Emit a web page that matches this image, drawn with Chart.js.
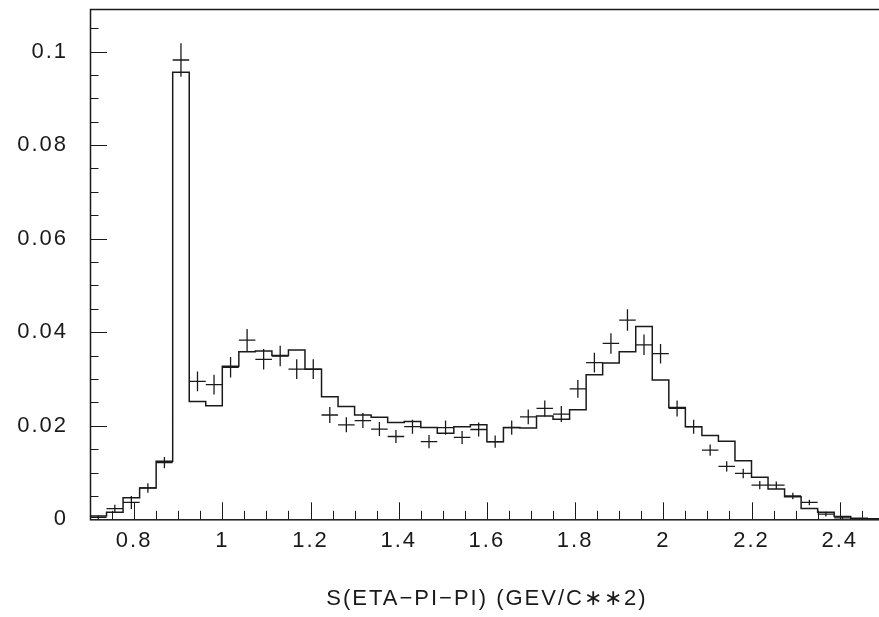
<!DOCTYPE html>
<html>
<head>
<meta charset="utf-8">
<script src="https://cdn.jsdelivr.net/npm/chart.js@4.4.1/dist/chart.umd.min.js"></script>
<style>
  html, body { margin: 0; padding: 0; background: #fff; overflow: hidden; }
  #wrap { width: 890px; height: 617px; }
</style>
</head>
<body>
<div id="wrap"><canvas id="c" width="890" height="617"></canvas></div>
<script>
// 48 bins of 0.0375 GeV/c^2 between 0.7 and 2.5
const binEdges = [
  0.7, 0.7375, 0.775, 0.8125, 0.85, 0.8875, 0.925, 0.9625,
  1.0, 1.0375, 1.075, 1.1125, 1.15, 1.1875, 1.225, 1.2625,
  1.3, 1.3375, 1.375, 1.4125, 1.45, 1.4875, 1.525, 1.5625,
  1.6, 1.6375, 1.675, 1.7125, 1.75, 1.7875, 1.825, 1.8625,
  1.9, 1.9375, 1.975, 2.0125, 2.05, 2.0875, 2.125, 2.1625,
  2.2, 2.2375, 2.275, 2.3125, 2.35, 2.3875, 2.425, 2.4625, 2.5
];

// solid histogram, one value per bin
const modelValues = [
  0.0007, 0.0015, 0.0046, 0.0067, 0.0124, 0.0956, 0.0252, 0.0243,
  0.0327, 0.0358, 0.0360, 0.0350, 0.0362, 0.0321, 0.0262, 0.0241,
  0.0223, 0.0218, 0.0207, 0.0209, 0.0196, 0.0184, 0.0198, 0.0202,
  0.0166, 0.0196, 0.0195, 0.0221, 0.0214, 0.0234, 0.0309, 0.0334,
  0.0358, 0.0412, 0.0298, 0.0239, 0.0198, 0.0179, 0.0167, 0.0125,
  0.0090, 0.0065, 0.0048, 0.0023, 0.0015, 0.0006, 0.0002, 0.0001
];

// measured points, one per bin (null = empty bin)
const dataValues = [
  0.0004, 0.0023, 0.0036, 0.0067, 0.0121, 0.0982, 0.0295, 0.0288,
  0.0325, 0.0383, 0.0342, 0.0349, 0.0321, 0.0321, 0.0223, 0.0202,
  0.0211, 0.0193, 0.0177, 0.0198, 0.0166, 0.0196, 0.0175, 0.0192,
  0.0166, 0.0196, 0.0219, 0.0237, 0.0225, 0.0279, 0.0335, 0.0376,
  0.0426, 0.0373, 0.0354, 0.0237, 0.0198, 0.0148, 0.0113, 0.0098,
  0.0073, 0.0073, 0.0050, 0.0036, 0.0011, 0.0003, 0.0001, null
];

// statistical error (half length of the vertical bar)
const dataErrors = [
  0.0004, 0.0008, 0.0014, 0.0010, 0.0012, 0.0036, 0.0021, 0.0021,
  0.0022, 0.0024, 0.0022, 0.0022, 0.0021, 0.0021, 0.0017, 0.0016,
  0.0016, 0.0015, 0.0014, 0.0015, 0.0014, 0.0015, 0.0014, 0.0015,
  0.0013, 0.0015, 0.0016, 0.0017, 0.0017, 0.0019, 0.0021, 0.0022,
  0.0023, 0.0022, 0.0021, 0.0017, 0.0015, 0.0012, 0.0011, 0.0010,
  0.0009, 0.0008, 0.0007, 0.0006, 0.0005, 0.0004, 0.0002, 0
];

const xTickValues = [0.8, 1, 1.2, 1.4, 1.6, 1.8, 2, 2.2, 2.4];
const yTickValues = [0, 0.02, 0.04, 0.06, 0.08, 0.1];
const xMinorStep = 0.05;
const yMinorStep = 0.005;
const xRange = [0.7, 2.5];
const yRange = [0, 0.1091];
const xAxisTitle = 'S(ETA\u2212PI\u2212PI) (GEV/C\u2217\u22172)';

const FONT = "'Liberation Sans', Arial, sans-serif";
const INK = '#1a1a1a';

// step outline: each bin contributes its left and right corner
const histPoints = [];
modelValues.forEach((v, i) => {
  histPoints.push({ x: binEdges[i], y: v });
  histPoints.push({ x: binEdges[i + 1], y: v });
});

const pointData = [];
dataValues.forEach((v, i) => {
  if (v !== null) pointData.push({ x: (binEdges[i] + binEdges[i + 1]) / 2, y: v, i });
});

const fmt = v => String(Number(v.toFixed(4)));

// frame around the plot and inward-pointing tick marks
const framePlugin = {
  id: 'frame',
  beforeDraw(chart) {
    chart.ctx.letterSpacing = '2px';
  },
  afterDatasetsDraw(chart) {
    const { ctx, chartArea: a, scales: { x, y } } = chart;
    ctx.save();
    ctx.strokeStyle = INK;
    ctx.lineWidth = 1;
    ctx.beginPath();
    const isMajor = (list, v) => list.some(t => Math.abs(t - v) < 1e-7);
    for (let i = 1; ; i++) {
      const v = xRange[0] + i * xMinorStep;
      if (v > xRange[1] + 1e-9) break;
      const px = Math.round(x.getPixelForValue(v)) + 0.5;
      const len = isMajor(xTickValues, Number(v.toFixed(4))) ? 17 : 8.5;
      ctx.moveTo(px, a.bottom);
      ctx.lineTo(px, a.bottom - len);
    }
    for (let i = 1; ; i++) {
      const v = yRange[0] + i * yMinorStep;
      if (v > yRange[1] + 1e-9) break;
      const py = Math.round(y.getPixelForValue(v)) + 0.5;
      const len = isMajor(yTickValues, Number(v.toFixed(4))) ? 17 : 8.5;
      ctx.moveTo(a.left, py);
      ctx.lineTo(a.left + len, py);
    }
    ctx.stroke();
    ctx.lineWidth = 1.5;
    ctx.strokeRect(a.left + 0.5, a.top + 0.5, a.right - a.left, a.bottom - a.top);
    ctx.restore();
  }
};

// crosses: horizontal bar over the bin, vertical bar over the error
const crossPlugin = {
  id: 'crosses',
  afterDatasetsDraw(chart) {
    const { ctx, chartArea: a, scales: { x, y } } = chart;
    const meta = chart.getDatasetMeta(1);
    ctx.save();
    ctx.beginPath();
    ctx.rect(a.left, a.top, a.right - a.left, a.bottom - a.top);
    ctx.clip();
    ctx.strokeStyle = INK;
    ctx.lineWidth = 1.3;
    ctx.beginPath();
    meta.data.forEach((el, k) => {
      const d = pointData[k];
      const err = dataErrors[d.i];
      const x0 = x.getPixelForValue(binEdges[d.i]);
      const x1 = x.getPixelForValue(binEdges[d.i + 1]);
      ctx.moveTo(x0, el.y);
      ctx.lineTo(x1, el.y);
      if (err > 0) {
        ctx.moveTo(el.x, y.getPixelForValue(d.y + err));
        ctx.lineTo(el.x, y.getPixelForValue(d.y - err));
      }
    });
    ctx.stroke();
    ctx.restore();
  }
};

new Chart(document.getElementById('c'), {
  type: 'line',
  data: {
    datasets: [
      {
        data: histPoints,
        borderColor: INK,
        borderWidth: 1.5,
        pointRadius: 0,
        tension: 0,
        fill: false
      },
      {
        type: 'scatter',
        data: pointData,
        pointRadius: 0,
        showLine: false
      }
    ]
  },
  options: {
    responsive: false,
    animation: false,
    events: [],
    layout: { padding: { left: 0, right: 6.2, top: 9, bottom: 0 } },
    plugins: { legend: { display: false }, tooltip: { enabled: false } },
    scales: {
      x: {
        type: 'linear',
        min: xRange[0],
        max: xRange[1],
        grid: { display: false, drawTicks: false },
        border: { display: false },
        afterBuildTicks: s => { s.ticks = xTickValues.map(v => ({ value: v })); },
        afterFit: s => { s.height = 97.7; s.paddingLeft = 0; s.paddingRight = 0; },
        ticks: {
          padding: 8,
          maxRotation: 0,
          autoSkip: false,
          color: INK,
          font: { family: FONT, size: 22 },
          callback: v => fmt(v)
        },
        title: {
          display: true,
          text: xAxisTitle,
          color: INK,
          font: { family: FONT, size: 22 },
          padding: { top: 0, bottom: 5 }
        }
      },
      y: {
        type: 'linear',
        min: yRange[0],
        max: yRange[1],
        grid: { display: false, drawTicks: false },
        border: { display: false },
        afterBuildTicks: s => { s.ticks = yTickValues.map(v => ({ value: v })); },
        afterFit: s => { s.width = 90; s.paddingTop = 0; s.paddingBottom = 0; },
        ticks: {
          padding: 22,
          autoSkip: false,
          color: INK,
          font: { family: FONT, size: 22 },
          callback: v => fmt(v)
        }
      }
    }
  },
  plugins: [framePlugin, crossPlugin]
});
</script>
</body>
</html>
